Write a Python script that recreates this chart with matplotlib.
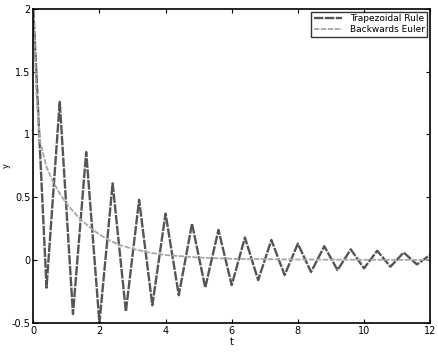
import numpy as np
import matplotlib.pyplot as plt

# trapezoidal rule, step 0.4
t_trap = [0.4 * k for k in range(31)]
y_trap = [2.0, -0.22, 1.26, -0.43, 0.86, -0.50, 0.61, -0.41, 0.48, -0.36,
          0.37, -0.28, 0.29, -0.22, 0.24, -0.20, 0.18, -0.16, 0.16, -0.12,
          0.13, -0.095, 0.11, -0.08, 0.085, -0.066, 0.074, -0.053, 0.06, -0.035,
          0.04]

# backwards euler
t_be = [0, 0.1, 0.2, 0.4, 0.6, 0.8, 1.0, 1.4, 1.8, 2.2, 2.6, 3.0, 3.5, 4.0,
        5.0, 6.0, 8.0, 10.0, 12.0]
y_be = [2.0, 1.3, 0.95, 0.74, 0.62, 0.53, 0.45, 0.33, 0.24, 0.17, 0.12, 0.09,
        0.06, 0.04, 0.02, 0.01, 0.004, 0.002, 0.001]

fig = plt.figure(figsize=(4.38, 3.54), dpi=100)
ax = fig.add_axes([0.076, 0.088, 0.906, 0.887])

ax.plot(t_trap, y_trap, color='#555555', lw=1.7, ls=(0, (4, 0.6)), label='Trapezoidal Rule')
ax.plot(t_be, y_be, color='#a8a8a8', lw=1.3, ls=(0, (3, 0.8)), label='Backwards Euler')

ax.set_xlim(0, 12)
ax.set_ylim(-0.5, 2)
ax.set_xticks([0, 2, 4, 6, 8, 10, 12])
ax.set_yticks([-0.5, 0, 0.5, 1, 1.5, 2])
ax.set_yticklabels(['-0.5', '0', '0.5', '1', '1.5', '2'])
ax.tick_params(direction='in', top=True, right=True, labelsize=7, length=3, pad=2)
for s in ax.spines.values():
    s.set_linewidth(1.2)

ax.set_xlabel('t', fontsize=7, labelpad=1)
ax.set_ylabel('y', fontsize=6)
ax.yaxis.set_label_coords(-0.058, 0.5)

leg = ax.legend(loc='upper right', fontsize=6.5, frameon=True, fancybox=False,
                edgecolor='black', borderpad=0.3, handlelength=3.2, labelspacing=0.2,
                borderaxespad=0.3)
leg.get_frame().set_linewidth(1.0)

fig.savefig('out.png', dpi=100)
